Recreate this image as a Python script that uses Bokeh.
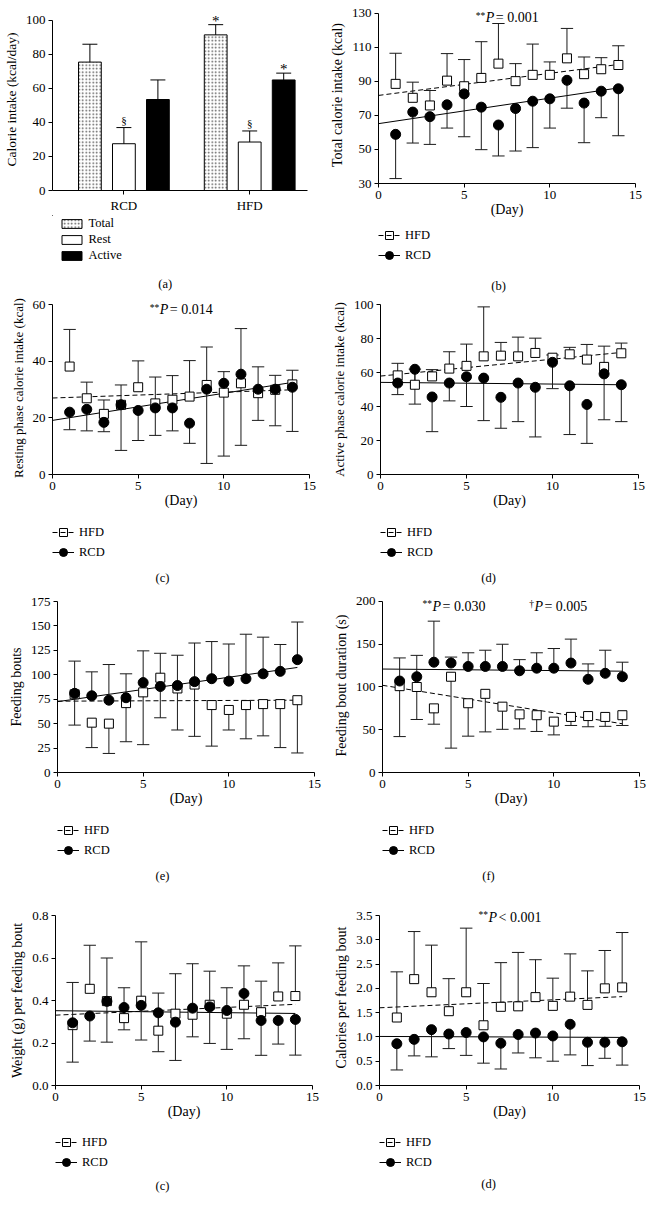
import numpy as np
from bokeh.plotting import figure
from bokeh.layouts import column, row
from bokeh.models import Legend, LegendItem, Label, FixedTicker, PrintfTickFormatter, Range1d
from bokeh.embed import file_html
from bokeh.resources import INLINE

FONT = "Liberation Serif"
EB = "#1a1a1a"
W = 326

# ---------------- data ----------------
days = list(range(1, 15))
fit_days = [0, 14]

# (a) calorie intake bars
a_groups = ["RCD", "HFD"]
a_total = [75.5, 91.5]
a_total_err = [86.0, 97.5]
a_rest = [27.5, 28.5]
a_rest_err = [37.0, 35.0]
a_active = [53.5, 65.0]
a_active_err = [65.0, 69.0]

# (b) total calorie intake
b_hfd = [88.6, 80.4, 75.9, 90.5, 87.2, 92.1, 100.5, 90.2, 93.9, 93.9, 103.6, 94.3, 97.2, 99.7]
b_hfd_err = [106.6, 89.6, 84.7, 106.4, 102.9, 113.4, 124.1, 100.5, 112, 101.5, 121.2, 104.4, 104, 111]
b_rcd = [58.9, 72, 69.3, 76.3, 82.7, 74.9, 64.4, 74.1, 78.4, 79.8, 90.7, 77.3, 84.3, 85.7]
b_rcd_err = [32.9, 53.8, 53, 62.6, 57.5, 49.9, 46.2, 49.1, 51.1, 62.6, 74.3, 54, 68.7, 58.1]
b_hfd_fit = [81.8, 100]
b_rcd_fit = [65.2, 86.2]

# (c) resting phase calorie intake
c_hfd = [38.1, 26.9, 21.4, 24.6, 30.8, 25.1, 26.4, 27.5, 31.6, 28.9, 32.2, 28.7, 29.9, 31.8]
c_hfd_err = [51.2, 32.6, 26.3, 31.6, 40.1, 34.4, 34.9, 40.2, 45, 36.3, 51.5, 38, 35, 36.8]
c_rcd = [22, 23, 18.4, 24.6, 22.6, 23.5, 23.5, 18.1, 30.1, 32.2, 35.4, 30.1, 30.1, 30.8]
c_rcd_err = [15.8, 15.4, 15.1, 8.5, 12, 13.8, 15.4, 11, 3.9, 6.5, 10.3, 19.1, 17.2, 15.2]
c_hfd_fit = [27, 29.9]
c_rcd_fit = [19.1, 32.5]

# (d) active phase calorie intake
d_hfd = [58.3, 52.8, 57.7, 62.3, 63.9, 69.5, 69.9, 69.5, 71.5, 68.7, 70.7, 67.6, 63.3, 71.3]
d_hfd_err = [65.4, 62, 61.7, 72.2, 76.7, 98.6, 77.7, 80.8, 80.2, 70.3, 74.8, 76.5, 75.5, 77.3]
d_rcd = [53.8, 61.9, 45.6, 53.8, 57.5, 56.7, 45.4, 53.8, 51.3, 66, 52.2, 41.2, 59.2, 52.8]
d_rcd_err = [47, 41.4, 25.2, 43.3, 40, 31.7, 27.2, 31.1, 22.1, 50.5, 23.5, 18.3, 32.2, 31.1]
d_hfd_fit = [57.9, 71.8]
d_rcd_fit = [54.2, 52.8]

# (e) feeding bouts
e_hfd = [80, 51, 50, 71, 82, 97, 86, 90, 69, 64, 69, 70, 70, 74]
e_hfd_err = [48.5, 25.5, 19.5, 31.5, 28.5, 56, 43.5, 37, 27, 43.5, 34.5, 37.5, 25.5, 20]
e_rcd = [81, 78.5, 74, 76.5, 92, 88, 89, 93, 96, 93.5, 96, 101, 103.5, 115.5]
e_rcd_err = [114, 103, 110.5, 101, 124.5, 122, 120, 132.5, 134, 131.5, 141.5, 138.5, 131, 154]
e_hfd_fit = [73, 74]
e_rcd_fit = [72.5, 107.5]

# (f) feeding bout duration
f_hfd = [101, 100, 75, 112, 81, 92, 77, 68, 67, 59.5, 65, 66, 65, 67]
f_hfd_err = [42, 62, 56.5, 28.5, 42.5, 47.5, 50.5, 51, 48, 44, 55, 53.5, 54, 55]
f_rcd = [107, 112, 129, 128, 124, 124, 124, 119, 122, 122, 128, 109, 116, 112]
f_rcd_err = [134, 137, 177, 135, 140, 143, 150, 132, 140, 145, 156, 127, 143, 129]
f_hfd_fit = [102, 57]
f_rcd_fit = [121, 118.5]

# (g) weight per feeding bout
g_hfd = [0.284, 0.455, 0.397, 0.317, 0.399, 0.258, 0.338, 0.333, 0.38, 0.338, 0.38, 0.345, 0.419, 0.421]
g_hfd_err = [0.485, 0.66, 0.60, 0.46, 0.676, 0.435, 0.526, 0.573, 0.538, 0.46, 0.563, 0.491, 0.577, 0.657]
g_rcd = [0.295, 0.327, 0.396, 0.367, 0.377, 0.342, 0.298, 0.364, 0.37, 0.353, 0.433, 0.306, 0.306, 0.311]
g_rcd_err = [0.11, 0.209, 0.204, 0.262, 0.214, 0.159, 0.118, 0.229, 0.198, 0.17, 0.22, 0.142, 0.195, 0.143]
g_hfd_fit = [0.331, 0.382]
g_rcd_fit = [0.352, 0.339]

# (h) calories per feeding bout
h_hfd = [1.40, 2.19, 1.92, 1.53, 1.92, 1.24, 1.62, 1.63, 1.82, 1.64, 1.83, 1.66, 2.00, 2.02]
h_hfd_err = [2.34, 3.17, 2.89, 2.20, 3.24, 2.10, 2.53, 2.74, 2.59, 2.21, 2.71, 2.36, 2.78, 3.15]
h_rcd = [0.86, 0.95, 1.15, 1.06, 1.09, 1.00, 0.87, 1.05, 1.08, 1.02, 1.26, 0.89, 0.89, 0.90]
h_rcd_err = [0.32, 0.61, 0.59, 0.76, 0.62, 0.46, 0.34, 0.67, 0.57, 0.50, 0.63, 0.41, 0.56, 0.42]
h_hfd_fit = [1.60, 1.83]
h_rcd_fit = [1.01, 0.99]


# ---------------- helpers ----------------
def plot_fig(l, r, t, fh, b, xr, yr, ybounds, ylabel, lab_size="14px"):
    p = figure(width=W, height=t + fh + b, x_range=Range1d(*xr), y_range=Range1d(*yr),
               output_backend="svg", toolbar_location=None,
               min_border_left=l, min_border_right=r, min_border_top=t, min_border_bottom=b)
    p.xgrid.visible = False
    p.ygrid.visible = False
    p.outline_line_color = None
    p.background_fill_color = "white"
    p.border_fill_color = "white"
    for ax in (p.xaxis[0], p.yaxis[0]):
        ax.axis_line_color = "black"
        ax.axis_line_width = 1
        ax.major_tick_line_color = "black"
        ax.minor_tick_line_color = None
        ax.major_tick_out = 4
        ax.major_tick_in = 0
        ax.major_label_standoff = 3
        ax.major_label_text_font = FONT
        ax.major_label_text_font_size = "13px"
        ax.major_label_text_color = "black"
        ax.axis_label_text_font = FONT
        ax.axis_label_text_font_size = lab_size
        ax.axis_label_text_font_style = "normal"
        ax.axis_label_text_color = "black"
    p.yaxis.bounds = ybounds
    p.yaxis.axis_label = ylabel
    p.yaxis.axis_label_standoff = 4
    p.xaxis.axis_label_standoff = 0
    p.xaxis.axis_label_text_font_size = "14px"
    return p


def legend_fig(l, r, h):
    q = figure(width=W, height=h, x_range=Range1d(0, W - l - r), y_range=Range1d(h, 0),
               x_axis_type=None, y_axis_type=None, output_backend="svg", toolbar_location=None,
               min_border_left=l, min_border_right=r, min_border_top=0, min_border_bottom=0)
    q.outline_line_color = None
    q.background_fill_color = "white"
    q.border_fill_color = "white"
    return q


def add_legend(q, items, x, top, rows, row_h, h, **kw):
    vy = h - top - rows * row_h
    leg = Legend(items=items, location=(x, vy), orientation="vertical",
                 spacing=0, padding=0, margin=0,
                 border_line_color=None, background_fill_alpha=0,
                 label_text_font=FONT, label_text_font_size="12.5px",
                 label_text_color="black", **kw)
    q.add_layout(leg)


def add_caption(q, text, x, y):
    q.add_layout(Label(x=x, y=y, text=text, text_align="center", text_baseline="middle",
                       text_font=FONT, text_font_size="12.5px", text_color="black"))


def ptext(p, x, y, prefix, rest):
    p.add_layout(Label(x=x, y=y, text=prefix, text_align="right", text_baseline="middle",
                       x_offset=-0.5, y_offset=2, text_font=FONT, text_font_size="9.5px",
                       text_color="black"))
    p.add_layout(Label(x=x, y=y, text="P", text_align="left", text_baseline="middle",
                       text_font=FONT, text_font_size="14px", text_font_style="italic",
                       text_color="black"))
    p.add_layout(Label(x=x, y=y, text=rest, text_align="left", text_baseline="middle",
                       x_offset=10, text_font=FONT, text_font_size="14px", text_color="black"))


def line_panel(geom, yr, yticks, ylabel, hfd, hfd_err, rcd, rcd_err,
               hfd_fit, rcd_fit, cap, fmt=None, lab_size="14px"):
    l, r, t, fh, b, lh_, leg_top, cap_x, cap_y = geom
    p = plot_fig(l, r, t, fh, b, (0, 15), yr, (yticks[0], yticks[-1]), ylabel, lab_size)
    p.xaxis.ticker = FixedTicker(ticks=[0, 5, 10, 15])
    p.yaxis.ticker = FixedTicker(ticks=yticks)
    if fmt:
        p.yaxis.formatter = PrintfTickFormatter(format=fmt)
    p.xaxis.axis_label = "(Day)"
    p.line(fit_days, hfd_fit, line_color="black", line_width=1, line_dash="5 3")
    p.line(fit_days, rcd_fit, line_color="black", line_width=1)
    d = np.array(days, dtype=float)
    for m, e in ((hfd, hfd_err), (rcd, rcd_err)):
        p.segment(d, m, d, e, line_color=EB, line_width=1)
        p.segment(d - 0.36, e, d + 0.36, e, line_color=EB, line_width=1)
    p.scatter(d, hfd, marker="square", size=9, fill_color="white",
              line_color="black", line_width=1)
    p.scatter(d, rcd, marker="circle", size=10, fill_color="black",
              line_color="black", line_width=1)

    q = legend_fig(l, r, lh_)
    # legend sample renderers (kept outside the visible range)
    gs_h = q.scatter([-50], [-50], marker="square", size=9, fill_color="white", line_color="black")
    gl_h = q.line([-50, -40], [-50, -50], line_color="black", line_width=1, line_dash="5 3")
    gl_r = q.line([-50, -40], [-50, -50], line_color="black", line_width=1)
    gs_r = q.scatter([-50], [-50], marker="circle", size=10, fill_color="black", line_color="black")
    add_legend(q, [LegendItem(label="HFD", renderers=[gs_h, gl_h]),
                   LegendItem(label="RCD", renderers=[gl_r, gs_r])],
               0, leg_top, 2, 20, lh_,
               glyph_width=22, glyph_height=20, label_height=20, label_standoff=5)
    add_caption(q, cap, cap_x, cap_y)
    return column(p, q)


# ---------------- (a) bar chart ----------------
la, ra_, ta, fha, ba, lha = 49, 19, 8, 183, 24, 81
pa = plot_fig(la, ra_, ta, fha, ba, (-1, 74), (0, 107.0), (0, 100),
              "Calorie intake (kcal/day)", "13.5px")
pa.yaxis.ticker = FixedTicker(ticks=[0, 20, 40, 60, 80, 100])
grp_base = np.array([0.0, 37.0])
centers = grp_base + 20
pa.xaxis.ticker = FixedTicker(ticks=list(centers))
pa.xaxis.major_label_overrides = {int(c): g for c, g in zip(centers, a_groups)}
bw, cw = 6.7, 2.2
x_tot, x_rest, x_act = grp_base + 10, grp_base + 20, grp_base + 30
bar_styles = dict(
    total=dict(fill_color="white", line_color="black", hatch_pattern="dot", hatch_scale=3.5,
               hatch_weight=0.7, hatch_color="#555555"),
    rest=dict(fill_color="white", line_color="black"),
    active=dict(fill_color="black", line_color="black"),
)
pa.vbar(x=x_tot, top=a_total, width=bw, bottom=0, **bar_styles["total"])
pa.vbar(x=x_rest, top=a_rest, width=bw, bottom=0, **bar_styles["rest"])
pa.vbar(x=x_act, top=a_active, width=bw, bottom=0, **bar_styles["active"])
for xs, m, e in ((x_tot, a_total, a_total_err), (x_rest, a_rest, a_rest_err),
                 (x_act, a_active, a_active_err)):
    pa.segment(xs, m, xs, e, line_color="black", line_width=1)
    pa.segment(xs - cw, e, xs + cw, e, line_color="black", line_width=1)
for i in range(2):
    pa.add_layout(Label(x=float(x_rest[i]), y=float(a_rest_err[i]), text="§",
                        text_align="center", text_baseline="bottom", y_offset=2,
                        text_font=FONT, text_font_size="11px", text_color="black"))
for xs, e in ((x_tot, a_total_err), (x_act, a_active_err)):
    pa.add_layout(Label(x=float(xs[1]), y=float(e[1]), text="*", text_align="center",
                        text_baseline="bottom", y_offset=-4, text_font=FONT,
                        text_font_size="15px", text_color="black"))

qa = legend_fig(la, ra_, lha)
items_a = []
for lab, key in (("Total", "total"), ("Rest", "rest"), ("Active", "active")):
    g = qa.vbar(x=[-50], top=[-40], bottom=-50, width=1, **bar_styles[key])
    items_a.append(LegendItem(label=lab, renderers=[g]))
add_legend(qa, items_a, 6.5, 0, 3, 16, lha,
           glyph_width=25, glyph_height=11, label_height=16, label_standoff=5)
add_caption(qa, "(a)", 114, 68)
panel_a = column(pa, qa)

# ---------------- line panels ----------------
panel_b = line_panel((52, 17, 6, 177, 40, 73, 2, 120, 62), (30, 134.1),
                     [30, 50, 70, 90, 110, 130], "Total calorie intake (kcal)",
                     b_hfd, b_hfd_err, b_rcd, b_rcd_err, b_hfd_fit, b_rcd_fit, "(b)")
ptext(panel_b.children[0], 6.26, 127.6, "**", "= 0.001")

panel_c = line_panel((52, 17, 5, 173, 40, 78, 8, 110, 63), (0, 61.06),
                     [0, 20, 40, 60], "Resting phase calorie intake (kcal)",
                     c_hfd, c_hfd_err, c_rcd, c_rcd_err, c_hfd_fit, c_rcd_fit, "(c)",
                     lab_size="13px")
ptext(panel_c.children[0], 6.26, 58.2, "**", "= 0.014")

panel_d = line_panel((54, 14, 8, 170, 40, 78, 8, 108, 63), (0, 100),
                     [0, 20, 40, 60, 80, 100], "Active phase calorie intake (kcal)",
                     d_hfd, d_hfd_err, d_rcd, d_rcd_err, d_hfd_fit, d_rcd_fit, "(d)",
                     lab_size="13px")

panel_e = line_panel((57, 12, 9, 171, 40, 84, 8, 105, 63), (0, 175),
                     [0, 25, 50, 75, 100, 125, 150, 175], "Feeding bouts",
                     e_hfd, e_hfd_err, e_rcd, e_rcd_err, e_hfd_fit, e_rcd_fit, "(e)")

panel_f = line_panel((56, 13, 6, 174, 40, 84, 8, 106, 63), (0, 203.5),
                     [0, 50, 100, 150, 200], "Feeding bout duration (s)",
                     f_hfd, f_hfd_err, f_rcd, f_rcd_err, f_hfd_fit, f_rcd_fit, "(f)")
ptext(panel_f.children[0], 2.92, 194.2, "**", "= 0.030")
ptext(panel_f.children[0], 8.87, 194.2, "\u2020", "= 0.005")

panel_g = line_panel((55, 14, 19, 170, 40, 87, 7, 107, 60), (0, 0.8),
                     [0, 0.2, 0.4, 0.6, 0.8], "Weight (g) per feeding bout",
                     g_hfd, g_hfd_err, g_rcd, g_rcd_err, g_hfd_fit, g_rcd_fit, "(c)", fmt="%.1f")

panel_h = line_panel((53, 13, 13, 176, 40, 87, 7, 109, 58), (0, 3.624),
                     [0, 0.5, 1, 1.5, 2, 2.5, 3, 3.5], "Calories per feeding bout",
                     h_hfd, h_hfd_err, h_rcd, h_rcd_err, h_hfd_fit, h_rcd_fit, "(d)", fmt="%.1f")
ptext(panel_h.children[0], 6.29, 3.46, "**", "< 0.001")

layout = column(row(panel_a, panel_b), row(panel_c, panel_d),
                row(panel_e, panel_f), row(panel_g, panel_h))
open("out.html", "w").write(file_html(layout, INLINE))
